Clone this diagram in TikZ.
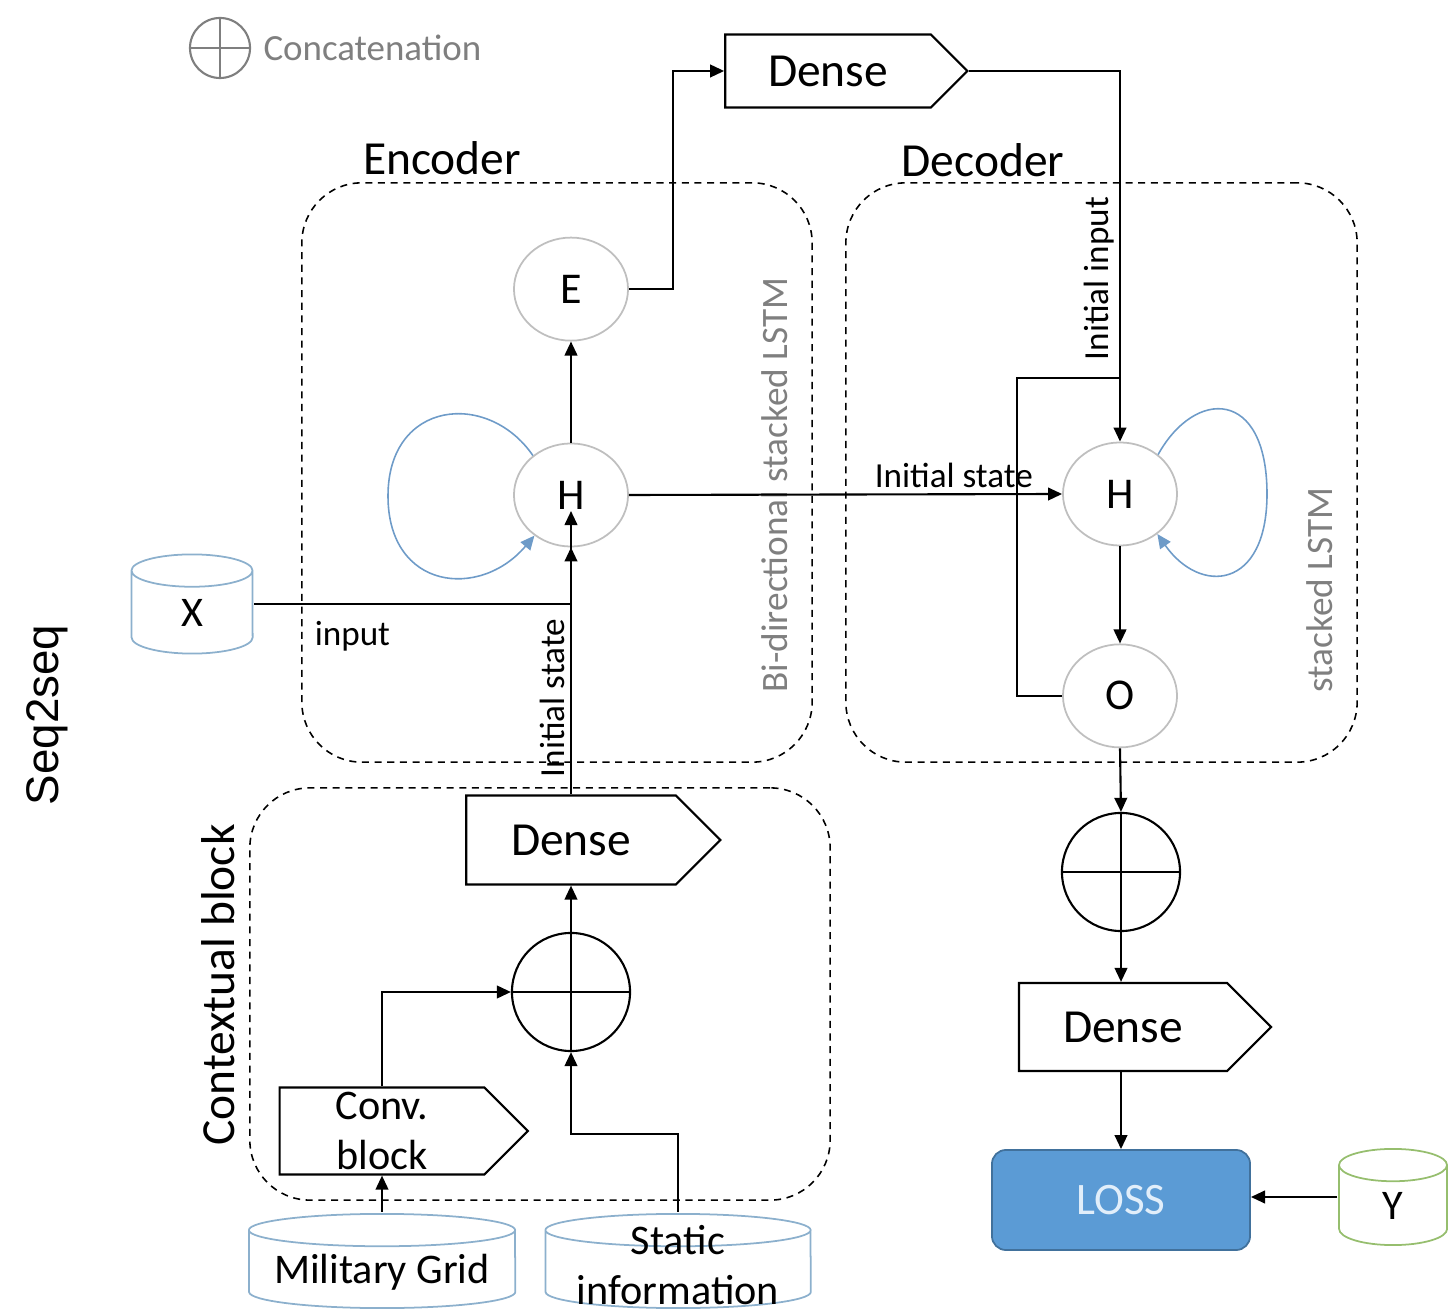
\documentclass[tikz,border=0pt]{standalone}
\usepackage{fontspec}
\setmainfont{Carlito}
\newfontfamily\arialfont{Liberation Sans}
\usetikzlibrary{positioning, calc, arrows.meta, shapes.geometric, shapes.symbols}
\definecolor{unitgray}{RGB}{191,191,191}
\definecolor{loopblue}{RGB}{110,155,200}
\definecolor{cylblue}{RGB}{140,176,205}
\definecolor{cylgreen}{RGB}{150,190,110}
\definecolor{lossblue}{RGB}{91,155,213}
\definecolor{lossedge}{RGB}{65,113,156}
\definecolor{losstext}{RGB}{225,238,250}
\definecolor{notegray}{RGB}{127,127,127}
\def\thickness{semithick}
\newcommand{\fsz}[2]{\fontsize{#1}{#2}\selectfont}
\tikzset{
unit/.style={ellipse, draw=unitgray, line width=0.5pt, fill=white,
	minimum width=1.14cm, minimum height=1.03cm, inner sep=0pt, font=\fsz{12.5}{15}},
dense/.style={signal, signal to=east, signal pointer angle=90, draw, \thickness,
	fill=white, inner sep=0pt, font=\fsz{13.5}{16}},
concat/.style={circle, draw=#1, line width=0.6pt, minimum size=1.18cm, inner sep=0pt,
	path picture={
		\draw[#1, line width=0.5pt] (path picture bounding box.north) -- (path picture bounding box.south)
		(path picture bounding box.west) -- (path picture bounding box.east);
	}},
concat/.default=black,
store/.style n args={3}{rectangle, inner sep=0pt, minimum width=#2*0.01cm, minimum height=#3*0.01cm,
	text height=13pt, text depth=0pt, font=\fsz{12}{14},
	path picture={
		\draw[#1, line width=0.5pt]
		($(path picture bounding box.north)+(0,-5pt)$) ellipse [x radius=#2*0.005cm-0.3pt, y radius=4.6pt]
		($(path picture bounding box.north west)+(0.3pt,-5pt)$) -- ($(path picture bounding box.south west)+(0.3pt,5pt)$)
		arc[start angle=180, end angle=360, x radius=#2*0.005cm-0.3pt, y radius=4.6pt]
		-- ($(path picture bounding box.north east)+(-0.3pt,-5pt)$);
	}},
block/.style={draw, dash pattern=on 2pt off 1.6pt, line width=0.45pt, rounded corners=0.6cm, inner sep=0pt},
arr/.style={-{Triangle[length=4pt,width=3.6pt]}, \thickness},
lbl/.style={font=\fsz{10}{12}, inner sep=1.5pt},
title/.style={font=\fsz{13.5}{16}},
note/.style={font=\fsz{10.6}{12}, text=notegray, rotate=90},
lossbox/.style={rounded corners=0.14cm, draw=lossedge, fill=lossblue, text=losstext, line width=0.5pt,
	minimum width=2.58cm, minimum height=1.0cm, font=\fsz{12.8}{15}},
}

\begin{document}
\begin{tikzpicture}[x=0.01cm, y=-0.01cm, node distance=1cm]
\tikzstyle{loop}=[loopblue, line width=0.45pt, -{Triangle[length=4pt,width=3.6pt]}]
\useasboundingbox (0,0) rectangle (1448,1313);
%Place the boxes
\node[block, minimum width=5.10cm, minimum height=5.79cm] (encbox) at (557,472.5) {};
\node[block, minimum width=5.11cm, minimum height=5.79cm] (decbox) at (1101.5,472.5) {};
\node[block, minimum width=5.80cm, minimum height=4.12cm] (ctxbox) at (540,994) {};

\node[title] (enctitle) at (442,158) {Encoder};
\node[title] (dectitle) at (983,160) {Decoder};
\node[title, rotate=90] (ctxtitle) at (218,985) {Contextual block};
\node[font=\arialfont\fsz{13}{15}, rotate=90] (seqtitle) at (47,715) {Seq2seq};
\node[note] (encnote) at (775,485) {Bi-directional stacked LSTM};
\node[note] (decnote) at (1320,590) {stacked LSTM};

\node[concat=notegray, minimum size=0.6cm] (legend) at (220,48) {};
\node[right=0pt of legend, font=\fsz{10.5}{12}, text=notegray] (legendtxt) {Concatenation};

%Place the nodes
\node[unit] (Henc) at (571,495) {H};
\node[unit, above=1.01cm of Henc] (E) {E};
\node[unit] (Hdec) at (1120,494) {H};
\node[unit, below=0.97cm of Hdec] (O) {O};

\node[dense, minimum width=2.42cm, minimum height=0.73cm] (dense0) at (828,71) {Dense};
\node[dense, minimum width=2.54cm, minimum height=0.89cm] (dense1) at (571,840) {Dense};
\node[dense, minimum width=2.52cm, minimum height=0.88cm] (dense2) at (1123,1027) {Dense};
\node[dense, minimum width=2.48cm, minimum height=0.87cm, align=center,
	font=\fsz{12}{14.2}] (conv) at (382,1131) {Conv.\\block};

\node[concat] (cat1) at (571,992) {};
\node[concat] (cat2) at (1121,872) {};

\node[store={cylblue}{123}{102}] (X) at (192,604) {X};
\node[store={cylblue}{268}{97}] (mil) at (382,1261) {Military Grid};
\node[store={cylblue}{267}{97}] (static) at (678,1261) {};
\node[align=center, font=\fsz{12}{14}] (statictxt) at (678,1265) {Static\\information};
\node[store={cylgreen}{110}{99}] (Y) at (1393,1197) {Y};

\node[lossbox] (loss) at (1121,1200) {LOSS};

%
\coordinate (Hin) at ($(Henc.center)+(0,16)$);
\coordinate (join) at ($(Hdec.north)+(0,-64)$);

%Encoder
\draw[arr] (X.east) -| node[lbl, pos=0.155, below=3pt] {input} (Henc.south);
\draw[arr] (cat1.north |- dense1.north) -- node[lbl, pos=0.34, sloped, above] {Initial state} (Hin);
\draw[arr] (Henc.north) -- (E.south);
\draw[arr] (E.east) -- ++(44,0) |- (dense0.west);
\draw[loop] (Henc.134) .. controls (488,390) and (388,400) .. (388,496)
	.. controls (388,590) and (480,600) .. (Henc.228);

%Decoder
\draw[arr] (dense0.east) -| node[lbl, pos=0.78, rotate=90, anchor=south] {Initial input} (Hdec.north);
\draw[arr] (Henc.east) -- node[lbl, pos=0.75, above] {Initial state} (Hdec.west);
\draw[arr] (Hdec.south) -- (O.north);
\draw[\thickness] (O.west) -- ++(-45,0) |- (join);
\draw[loop] (Hdec.46) .. controls (1195,388) and (1267,388) .. (1267,494)
	.. controls (1267,590) and (1200,595) .. (Hdec.313);

%Output
\draw[arr] (O.south) -- (cat2.north);
\draw[arr] (cat2.south) -- (cat2.south |- dense2.north);
\draw[arr] (cat2.south |- dense2.south) -- (loss.north);
\draw[arr] (Y.west) -- (Y.west -| loss.east);

%Contextual block
\draw[arr] (cat1.north) -- (cat1.north |- dense1.south);
\draw[arr] (conv.north) |- (cat1.west);
\draw[arr] (mil.north) -- (mil.north |- conv.south);
\draw[arr] (static.north) -- ++(0,-78) -| (cat1.south);

\end{tikzpicture}
\end{document}
